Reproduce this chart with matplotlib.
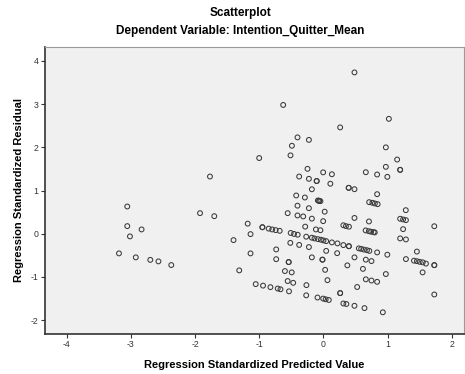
import matplotlib
matplotlib.use("Agg")
import matplotlib.pyplot as plt

plt.rcParams['font.family'] = ['Liberation Sans', 'DejaVu Sans']

title = "Scatterplot"
subtitle = "Dependent Variable: Intention_Quitter_Mean"
x_label = "Regression Standardized Predicted Value"
y_label = "Regression Standardized Residual"
x_ticks = [-4, -3, -2, -1, 0, 1, 2]
y_ticks = [-2, -1, 0, 1, 2, 3, 4]

# Standardized predicted values
pred = [
    -3.187, -3.058, -3.058, -3.016, -2.925, -2.835, -2.699, -2.572, -2.372,
    -1.924, -1.769, -1.702, -1.402, -1.313, -1.181, -1.137, -1.137,
    -1.056, -0.942, -0.827, -0.713, -0.670, -0.537, -1.002, -0.628,
    -0.952, -0.952, -0.854, -0.799, -0.745, -0.682, -0.737, -0.737,
    -0.511, -0.459, -0.402, -0.285, -0.517, -0.379, -0.227,
    -0.542, -0.542, -0.601, -0.495, -0.558, -0.472, -0.266, -0.269,
    -0.093, -0.005, 0.034, 0.083, 0.260, 0.260, 0.310, 0.357, 0.483, 0.639, 0.925,
    0.062, 0.026, -0.181, -0.016, -0.016, 0.042, 0.213,
    -0.269, -0.181, -0.140, -0.087, -0.040, 0.000, 0.042, 0.131, 0.218, 0.310, 0.396, 0.396,
    -0.118, -0.048, -0.405, -0.558, -0.316, -0.181, -0.005, 0.019,
    -0.405, -0.227, -0.425, -0.290, -0.087, -0.067, -0.067, -0.048,
    -0.181, -0.106, -0.106, 0.107, -0.249, -0.005, 0.131, -0.379, -0.227,
    -0.514, -0.492, -0.405, -0.227, 0.260, 0.483,
    1.019, 0.972, 1.148, 0.972, 1.195, 1.195, 0.660, 0.836, 0.995,
    0.393, 0.393, 0.483, 0.836, 0.712, 0.762, 0.801, 0.844, 1.283,
    0.483, 0.709, 1.195, 1.241, 1.285, 0.310, 0.350, 0.397,
    0.657, 0.707, 0.743, 0.782, 0.799, 1.241, 1.727, 1.195, 1.285,
    0.551, 0.587, 0.631, 0.678, 0.715, 0.836, 0.995, 1.456, 1.285,
    1.410, 1.456, 1.500, 1.547, 1.597, 1.727, 1.727, 1.545,
    0.483, 0.660, 0.748, 0.372, 0.615, 0.972, 0.660, 0.748, 0.836, 0.525, 1.727,
]

# Standardized residuals
resid = [
    -0.455, 0.630, 0.176, -0.062, -0.547, 0.099, -0.605, -0.640, -0.725,
    0.476, 1.323, 0.406, -0.148, -0.848, 0.233, -0.009, -0.455,
    -1.166, -1.201, -1.236, -1.268, -1.286, -1.333, 1.751, 2.979,
    0.150, 0.150, 0.118, 0.099, 0.083, 0.067, -0.363, -0.589,
    0.018, -0.005, -0.023, 0.164, -0.212, -0.259, -0.309,
    -0.656, -0.656, -0.864, -0.894, -1.095, -1.136, -1.189, -1.425,
    -1.476, -1.501, -1.517, -1.533, -1.374, -1.374, -1.614, -1.626, -1.667, -1.721, -1.818,
    -1.074, -0.836, -0.547, -0.600, -0.600, -0.397, -0.450,
    -0.069, -0.092, -0.109, -0.125, -0.139, -0.155, -0.171, -0.201, -0.224, -0.263, -0.289, -0.289,
    0.099, 0.081, 0.423, 0.476, 0.400, 0.349, 0.291, 0.510,
    0.649, 0.591, 0.885, 0.838, 0.769, 0.762, 0.762, 0.753,
    1.028, 1.219, 1.219, 1.157, 1.501, 1.420, 1.376, 1.323, 1.270,
    1.813, 2.035, 2.229, 2.171, 2.460, 3.732,
    2.658, 1.998, 1.716, 1.547, 1.478, 1.478, 1.423, 1.370, 1.316,
    1.062, 1.062, 1.030, 0.915, 0.730, 0.716, 0.700, 0.684, 0.545,
    0.365, 0.284, 0.346, 0.330, 0.314, 0.196, 0.176, 0.162,
    0.076, 0.058, 0.046, 0.037, 0.030, 0.106, 0.173, -0.109, -0.132,
    -0.339, -0.351, -0.367, -0.381, -0.397, -0.432, -0.485, -0.413, -0.587,
    -0.624, -0.635, -0.651, -0.663, -0.691, -0.727, -0.727, -0.894,
    -0.547, -0.600, -0.633, -0.732, -0.813, -0.933, -1.055, -1.083, -1.113, -1.233, -1.406,
]

fig = plt.figure(figsize=(4.65, 3.74), dpi=100)
fig.patch.set_facecolor('white')
ax = fig.add_axes([45 / 465, 1 - 334 / 374, (464 - 45) / 465, (334 - 47) / 374])
ax.set_facecolor('#f0f0f0')

ax.scatter(pred, resid, s=12, facecolors='none', edgecolors='#3a3a3a',
           linewidths=0.75, zorder=3)

ax.set_xlim(-4.34, 2.19)
ax.set_ylim(-2.32, 4.32)
ax.set_xticks(x_ticks)
ax.set_yticks(y_ticks)
ax.set_xticklabels([str(t) for t in x_ticks])
ax.set_yticklabels([str(t) for t in y_ticks])
ax.tick_params(axis='both', direction='out', length=3, width=0.8,
               colors='#333333', labelsize=6.3, pad=1.5)

for side in ['left', 'bottom']:
    ax.spines[side].set_color('#333333')
    ax.spines[side].set_linewidth(1.2)
for side in ['top', 'right']:
    ax.spines[side].set_color('#9a9a9a')
    ax.spines[side].set_linewidth(0.8)

ax.set_xlabel(x_label, fontsize=8, fontweight='bold', labelpad=8)
ax.set_ylabel(y_label, fontsize=8, fontweight='bold', labelpad=5)

fig.text(240 / 465, 1 - 13 / 374, title, ha='center', va='center',
         fontsize=8.5, fontweight='bold')
fig.text(240 / 465, 1 - 31 / 374, subtitle, ha='center', va='center',
         fontsize=8.5, fontweight='bold')

fig.savefig('out.png', dpi=100)
